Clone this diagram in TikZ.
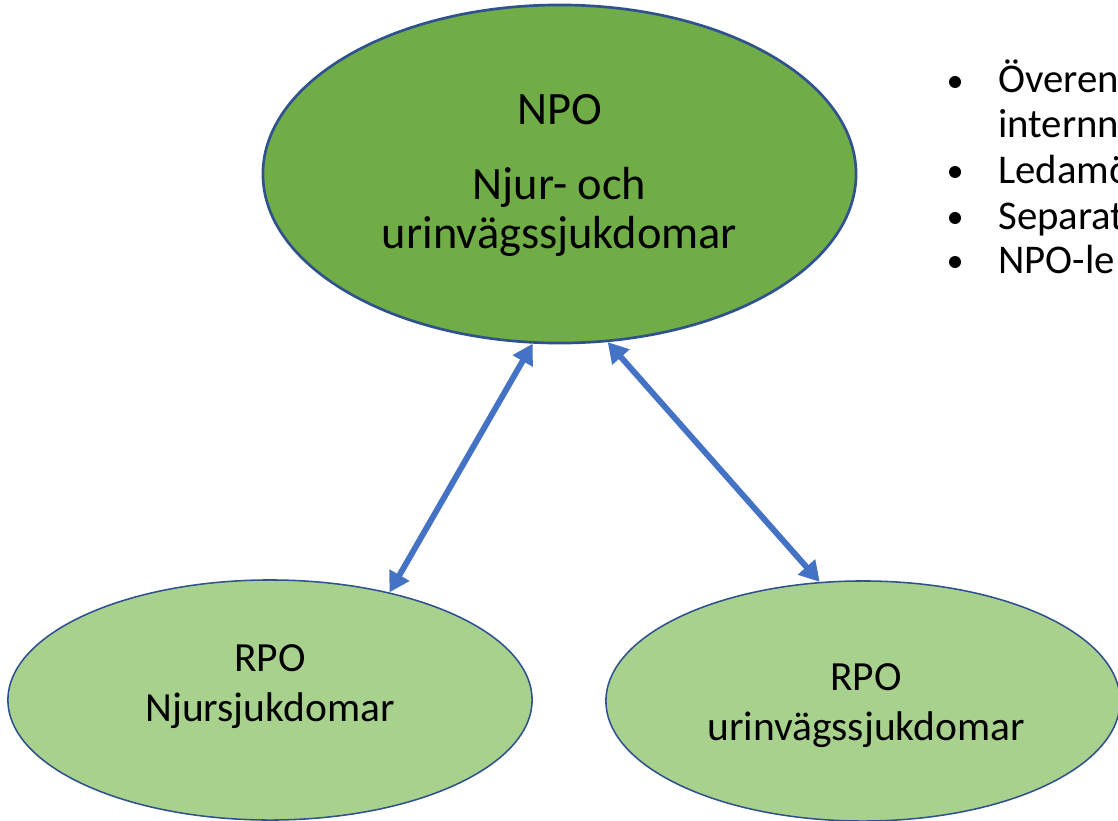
\documentclass[tikz,border=0pt]{standalone}
\usepackage{fontspec}
\setmainfont{Carlito}
\usepackage{xcolor}
\usetikzlibrary{shapes.geometric, arrows.meta, positioning}
\definecolor{npogreen}{HTML}{70AD47}
\definecolor{rpogreen}{HTML}{A9D18E}
\definecolor{edgeblue}{HTML}{2F528F}
\definecolor{arrowblue}{HTML}{4472C4}
\tikzstyle{npobox} = [ellipse, minimum width=14.825cm, minimum height=8.45cm, draw=edgeblue, line width=1.9pt, fill=npogreen, inner sep=0pt]
\tikzstyle{rpobox} = [ellipse, minimum height=6cm, draw=edgeblue, line width=1.1pt, fill=rpogreen, inner sep=0pt]
\tikzstyle{bigtext} = [align=center, inner sep=0pt, font=\fontsize{33}{35}\selectfont]
\tikzstyle{smalltext} = [align=center, inner sep=0pt, font=\fontsize{29.5}{35.5}\selectfont]
\tikzstyle{bulletline} = [anchor=base west, inner sep=0pt, font=\fontsize{29}{32}\selectfont]
\tikzstyle{bulletdot} = [circle, fill=black, inner sep=0pt, minimum size=0.3cm]
\tikzstyle{arrow} = [line width=4.2pt, draw=arrowblue, {Triangle[length=0.5cm,width=0.55cm]}-{Triangle[length=0.5cm,width=0.55cm]}]

\begin{document}
\begin{tikzpicture}[x=0.025cm, y=-0.025cm]
    \useasboundingbox (0,0) rectangle (1118,821);
    \clip (0,0) rectangle (1118,821);
    \node (npo) [npobox] at (559.5,174) {};
    \node (rpoN) [rpobox, minimum width=13.1cm] at (270,700) {};
    \node (rpoU) [rpobox, minimum width=12.85cm] at (863,701) {};

    \node (npoText) [bigtext] at (559.5,175.5) {NPO\\[18pt]Njur- och\\urinvägssjukdomar};
    \node (rpoNText) [smalltext] at (270,686.5) {RPO\\Njursjukdomar};
    \node (rpoUText) [smalltext] at (866,706) {RPO\\urinvägssjukdomar};

    \draw [arrow] (npo.-99) -- (rpoN.42);
    \draw [arrow] (npo.-74) -- (rpoU.110);

    % punktlista
    \node (dot1) [bulletdot] at (955,82) {};
    \node (item1) [bulletline] at (998,93) {Överen};
    \node (item1b) [bulletline] at (998,137) {internn};
    \node (dot2) [bulletdot] at (955,172) {};
    \node (item2) [bulletline] at (998,183) {Ledamö};
    \node (dot3) [bulletdot] at (955,218) {};
    \node (item3) [bulletline] at (998,229) {Separat};
    \node (dot4) [bulletdot] at (955,262) {};
    \node (item4) [bulletline] at (998,273) {NPO-le};
\end{tikzpicture}
\end{document}
